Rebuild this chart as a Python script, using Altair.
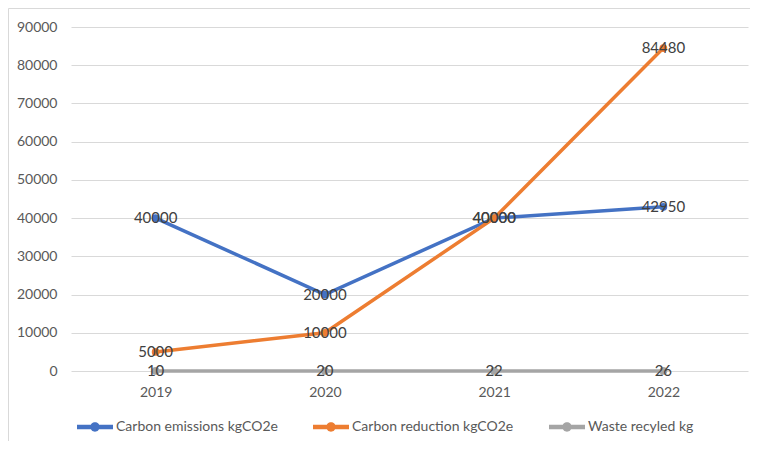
import altair as alt
import pandas as pd

years = ["2019", "2020", "2021", "2022"]
series_names = ["Carbon emissions kgCO2e", "Carbon reduction kgCO2e", "Waste recyled kg"]
emissions = [40000, 20000, 40000, 42950]
reduction = [5000, 10000, 40000, 84480]
waste = [10, 20, 22, 26]
colors = ["#4472C4", "#ED7D31", "#A5A5A5"]
y_ticks = [0, 10000, 20000, 30000, 40000, 50000, 60000, 70000, 80000, 90000]

rows = []
for i, (name, vals) in enumerate(zip(series_names, [emissions, reduction, waste])):
    for yr, v in zip(years, vals):
        rows.append({"year": yr, "series": name, "value": v, "order": i})
df = pd.DataFrame(rows)

FONT = "Lato"
TXT = "#595959"
FS = 14

fill_scale = alt.Scale(domain=series_names, range=colors)
# same mapping, listed in reverse so the (hidden) stroke legend is not merged with the fill legend
stroke_scale = alt.Scale(domain=series_names[::-1], range=colors[::-1])

x_enc = alt.X(
    "year:N", sort=years, scale=alt.Scale(type="point", padding=0.5),
    axis=alt.Axis(title=None, labelAngle=0, domain=False, ticks=False, grid=False,
                  labelPadding=14, labelFontSize=FS, labelColor=TXT, labelFont=FONT),
)
y_enc = alt.Y(
    "value:Q", scale=alt.Scale(domain=[0, 90000], nice=False),
    axis=alt.Axis(title=None, values=y_ticks, domain=False, ticks=False,
                  gridColor="#D9D9D9", gridWidth=1, format="d", labelPadding=14,
                  labelFontSize=FS, labelColor=TXT, labelFont=FONT),
)

LEG_PATH = ("M-1,-0.12L1,-0.12L1,0.12L-1,0.12Z "
            "M0.26,0A0.26,0.26,0,1,1,-0.26,0A0.26,0.26,0,1,1,0.26,0Z")

border = alt.Chart(pd.DataFrame({"a": [0]})).mark_rect(
    fillOpacity=0, stroke="#D9D9D9", strokeWidth=1
).encode(
    x=alt.value(-62.5), x2=alt.value(900), y=alt.value(-18.5), y2=alt.value(600)
)

base = alt.Chart(df)

lines = base.mark_line(strokeWidth=3.5).encode(
    x=x_enc, y=y_enc,
    stroke=alt.Stroke("series:N", scale=stroke_scale, legend=None),
    detail="series:N",
)

points = base.mark_point(filled=True, size=60, opacity=1, strokeWidth=0).encode(
    x=x_enc, y=y_enc,
    fill=alt.Fill(
        "series:N", scale=fill_scale, sort=series_names,
        legend=alt.Legend(
            title=None, orient="none", legendX=6, legendY=382, direction="horizontal",
            symbolType=LEG_PATH, symbolSize=1296, symbolStrokeWidth=0, symbolOpacity=1,
            labelFont=FONT, labelFontSize=FS, labelColor=TXT, labelOffset=3,
            labelLimit=400, columnPadding=35,
        ),
    ),
)

labels = base.mark_text(fontSize=15, color="#404040", font=FONT).encode(
    x=x_enc, y=y_enc, text=alt.Text("value:Q", format="d"),
)

chart = alt.layer(border, lines, points, labels).properties(
    width=677, height=344,
    autosize=alt.AutoSizeParams(type="none"),
    padding={"left": 63, "top": 19, "right": 2, "bottom": 70},
    background="white",
).configure_view(stroke=None)

chart.save("out.html", embed_options={"renderer": "svg", "actions": False})
